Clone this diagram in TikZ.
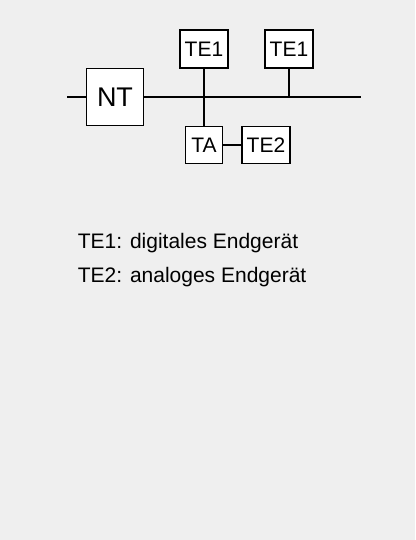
\documentclass[tikz,border=0pt]{standalone}
\usepackage{fontspec}
\setmainfont{Liberation Sans}
\usetikzlibrary{positioning}
\definecolor{hinter}{RGB}{239,239,239}

\begin{document}
\begin{tikzpicture}[x=1pt,y=-1pt,line width=1.8pt,
    geraet/.style={draw,fill=white,inner sep=0pt,font=\fontsize{21}{25}\selectfont},
    legende/.style={anchor=base west,inner sep=0pt,font=\fontsize{21}{25}\selectfont}]
    % Hintergrund
    \fill[hinter] (0,0) rectangle (415,540);
    \useasboundingbox (0,0) rectangle (415,540);

    % Enden des Busses
    \coordinate (busL) at (67,97);
    \coordinate (busR) at (361,97);

    % Geraete
    \node[geraet,minimum width=57pt,minimum height=57pt,font=\fontsize{27}{31}\selectfont] (nt) at (115,97) {NT};
    \node[geraet,minimum width=48pt,minimum height=38pt] (te1a) at (204,49) {TE1};
    \node[geraet,minimum width=48pt,minimum height=38pt] (te1b) at (289,49) {TE1};
    \node[geraet,minimum width=37pt,minimum height=37pt] (ta) at (204,145) {TA};
    \node[geraet,minimum width=48pt,minimum height=37pt] (te2) at (266,145) {TE2};

    % Bus
    \draw (busL) -- (nt.west);
    \draw (nt.east) -- (busR);

    % Anschluesse
    \draw (te1a.south) -- (ta.north);
    \draw (te1b.south) -- (te1b.south |- busR);
    \draw (ta.east) -- (te2.west);

    % Legende
    \node[legende] (l1) at (77,248) {TE1: digitales Endgerät};
    \node[legende] (l2) at (77,282) {TE2: analoges Endgerät};
\end{tikzpicture}
\end{document}
